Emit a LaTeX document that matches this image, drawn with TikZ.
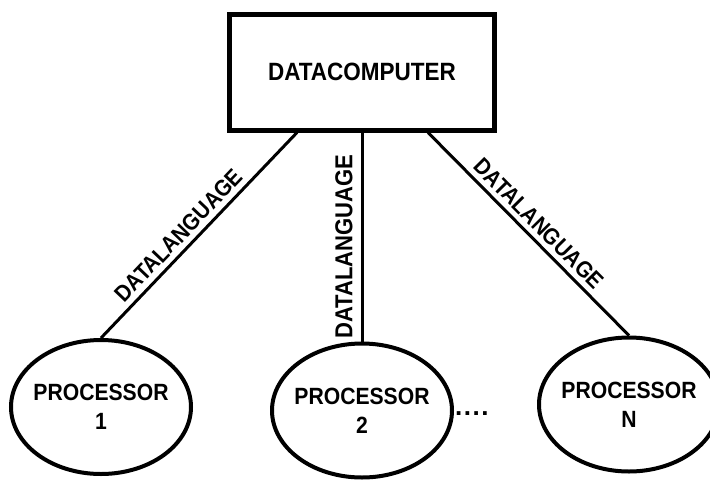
\documentclass[tikz,border=0pt]{standalone}
\usepackage{fontspec}
\setmainfont{Liberation Sans}
\newfontfamily\etroite{Liberation Sans}[FakeStretch=0.9]
\usetikzlibrary{positioning, shapes.geometric}
\tikzset{
  bloc/.style={rectangle, draw, line width=5pt, minimum width=265pt,
    minimum height=116pt, font=\etroite\fontsize{25}{28}\selectfont\bfseries},
  processeur/.style={ellipse, draw, line width=4pt, minimum width=180pt,
    minimum height=134pt, inner xsep=-5pt, inner ysep=0pt, align=center,
    font=\etroite\fontsize{23.5}{29}\selectfont\bfseries},
  liaison/.style={line width=3pt},
  etiquette/.style={sloped, above=5pt, inner sep=0pt,
    font=\etroite\fontsize{23}{26}\selectfont\bfseries},
  suite/.style={font=\fontsize{26}{28}\selectfont\bfseries, inner sep=0pt}
}
\begin{document}
\begin{tikzpicture}[x=1pt, y=-1pt]
    \useasboundingbox (0,0) rectangle (710,483);

    % Calculateur central
    \node[bloc] (dc) at (362,72) {DATACOMPUTER};

    % Processeurs
    \node[processeur, below=209pt of dc] (p2) {PROCESSOR\\2};
    \node[processeur, left=77pt of p2, yshift=3.5pt] (p1) {PROCESSOR\\1};
    \node[processeur, right=83pt of p2, yshift=6pt] (pn) {PROCESSOR\\N};
    \node[suite, anchor=base west, yshift=-5pt] (pts) at ([xshift=1pt]p2.east)
      {.\kern1.5pt.\kern1.5pt.\kern1.5pt.};

    % Liaisons en datalanguage
    \draw[liaison] (p1.north) -- node[etiquette, pos=0.45] {DATALANGUAGE}
      ([xshift=-65pt]dc.south);
    \draw[liaison] (p2.north) -- node[etiquette, pos=0.455, above=8pt,
      font=\etroite\fontsize{24.5}{26}\selectfont\bfseries] {DATALANGUAGE}
      (dc.south);
    \draw[liaison] ([xshift=66pt]dc.south) -- node[etiquette] {DATALANGUAGE}
      (pn.north);
\end{tikzpicture}
\end{document}
